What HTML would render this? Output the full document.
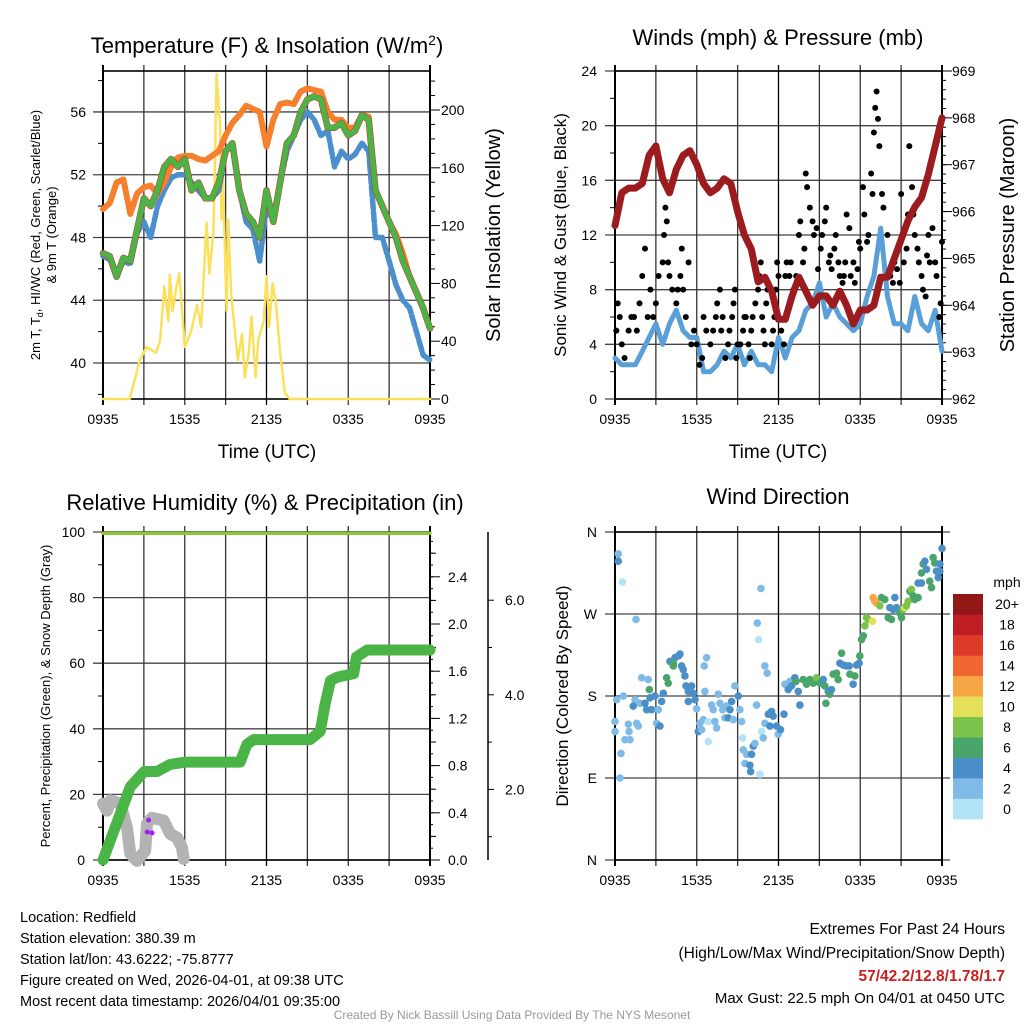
<!DOCTYPE html>
<html><head><meta charset="utf-8"><style>
html,body{margin:0;padding:0;background:#fff;}
svg{display:block;font-family:"Liberation Sans",Arial,sans-serif;}
</style></head><body>
<svg id="c" width="1024" height="1024" viewBox="0 0 1024 1024" xmlns="http://www.w3.org/2000/svg"></svg>
<script>
// ---------- DATA ----------
const halfHours = [0,0.5,1,1.5,2,2.5,3,3.5,4,4.5,5,5.5,6,6.5,7,7.5,8,8.5,9,9.5,10,10.5,11,11.5,12,12.5,13,13.5,14,14.5,15,15.5,16,16.5,17,17.5,18,18.5,19,19.5,20,20.5,21,21.5,22,22.5,23,23.5,24];
const tick3h = [0,3,6,9,12,15,18,21,24];
const timeLabels = ["0935","1535","2135","0335","0935"];
const temp9m = [49.8,50.2,51.5,51.7,49.5,50.8,51.2,51.3,50.8,51.5,52.5,53.1,53.2,53.2,53.0,52.9,53.2,53.5,54.5,55.3,55.8,56.4,56.2,56.0,53.8,55.5,56.5,56.6,56.5,57.3,57.5,57.4,57.3,56.0,55.5,55.5,55.0,55.0,55.8,55.7,51.0,50.0,49.0,48.2,47.0,45.5,44.5,43.5,42.2];
const temp2m = [47,46.8,45.5,46.7,46.5,48.5,50.5,50.0,51.0,52.5,53.0,52.5,53.0,51.0,51.5,50.5,50.5,51.5,53.5,54.0,51.0,49.5,49.0,48.0,51.0,49.0,51.5,54.0,54.5,56.0,56.8,57.0,56.8,55.0,55.0,55.3,54.5,54.8,55.8,55.5,51.0,50.0,49.0,48.0,46.5,45.5,44.5,43.5,42.2];
const dewpt = [46.8,46.6,45.5,46.5,46.3,48.3,49.0,48.0,50.0,51.0,51.8,52.0,52.0,51.5,51.0,50.5,50.5,51.0,53.5,54.0,51.0,49.0,48.5,46.5,50.0,49.0,51.5,53.5,54.5,55.5,56.0,55.5,54.5,54.8,52.5,53.5,53.0,53.3,54.0,53.5,48.0,48.0,46.5,45.0,44.0,43.5,42.0,40.5,40.2];
const solarT = [0,1.96,2.7,3.2,3.9,4.2,4.5,4.8,4.9,5.1,5.4,5.6,6.0,6.5,6.9,7.2,7.6,7.8,8.1,8.2,8.33,8.6,8.7,8.8,9.07,9.2,9.4,9.7,9.9,10.2,10.4,10.7,10.9,11.2,11.4,11.8,12.0,12.2,12.45,12.7,13.0,13.35,13.7,24];
const solarV = [0,0,27,36,32,41,78,54,86,61,78,87,36,48,65,50,122,87,115,154,225,188,124,154,61,124,73,45,27,45,15,32,57,15,41,54,85,50,80,66,32,4,0,0];
const tempTicks = [40,44,48,52,56];
const solarTicks = [0,40,80,120,160,200];

const pressure = [965.7,966.4,966.5,966.5,966.6,967.2,967.4,966.7,966.4,966.9,967.2,967.3,967.0,966.6,966.4,966.5,966.7,966.6,966.0,965.5,965.2,964.5,964.6,964.3,963.7,963.7,964.2,964.6,964.3,964.0,964.2,964.2,964.0,964.3,964.0,963.6,963.9,963.9,964.0,964.6,964.6,965.0,965.4,965.8,966.1,966.3,966.8,967.4,968.0];
const windSpd = [3,2.5,2.5,2.5,3.5,4.5,5.5,4.0,5.5,6.5,5,4.5,4.5,2.0,2.0,2.5,3.5,3.0,4.0,2.5,3.5,2.5,2.5,2.0,4.5,3.0,4.5,5.0,6.5,7.0,8.5,6.0,7.0,6.0,5.5,5.0,5.5,7.5,9.0,12.5,7.5,5.5,5.5,5.0,7.5,5.5,5.0,6.5,3.5];
const gustT = [0.1,0.2,0.35,0.5,0.7, 1.0,1.2,1.4,1.6,1.8,2.0,2.2,2.4,2.6,2.8,3.0,3.2, 3.5,3.6,3.7,3.8,3.9,4.0,4.2, 4.5,4.6,4.8,4.9,5.0,5.2,5.4, 5.6,5.8,6.0,6.2,6.4,6.5,6.7, 7.0,7.2,7.4,7.5,7.7,7.8,7.9, 8.1,8.3,8.4,8.6,8.7,8.8,8.9,9.0, 9.2,9.4,9.5,9.6,9.8,9.9,10.0, 10.1,10.3,10.5,10.6,10.7,10.8,10.9,11.0, 11.1,11.2,11.4,11.5,11.6,11.7,11.8,11.9,12.0, 12.2,12.4,12.5,12.6,12.8,12.9, 13.1,13.3,13.5,13.6,13.8,13.9, 14.0,14.1,14.3,14.5,14.6,14.8,14.9, 15.1,15.2,15.4,15.5,15.7,15.8,15.9, 16.1,16.2,16.4,16.5,16.7,16.8,16.9, 17.0,17.2,17.3,17.5,17.6,17.8,17.9, 18.0,18.2,18.3,18.5,18.6,18.8,18.9, 19.0,19.1,19.2,19.3,19.4,19.6,19.7, 20.0,20.2,20.4,20.5,20.7,20.9, 21.0,21.2,21.4,21.5,21.6,21.8,21.9, 22.0,22.2,22.3,22.5,22.6,22.8,22.9,23.0, 23.1,23.3,23.5,23.6,23.8,23.9,24.0];
const gustV = [5,7,6,4,3, 5,6,6,5,7,9,11,6,8,6,7,9, 10,12,14,13,10,9,8, 7,8,9,11,8,6,10, 4,5,4,2.5,3,6,5, 4,5,6,7,8,5,6, 3,4,5,6,7,8,3,4, 4,5,6,6,4,3,5, 6,7,8,9,10,6,5,4, 7,8,8,4,5,6,8,10,9, 5,4,9,10,9,10, 8,9,12,13,10,11, 16.5,15.5,14,13,12,12.5,9.5, 11,12,13,14,10,10.5,9.5, 11,12,10,9,8.5,9,10, 13.5,12.5,9,10,8.5,9.5,11.5, 11,15.5,13.5,11.5,12,16.5,15, 19.5,21.3,22.5,20.5,18.5,15,14, 12,9,8.5,10,9.5,8.5, 15,10,11,13.5,18.5,15.5,13.5, 12,11,10,9,8,7.5,10.5,12, 10,12.5,10,9,6,7,11.5];
const windTicks = [0,4,8,12,16,20,24];
const presTicks = [962,963,964,965,966,967,968,969];

const rhT = [0,24];
const rhV = [99.6,99.6];
const precipT = [0,2.0,3.03,3.96,4.94,6.04,10.07,10.56,11.05,15.2,15.94,16.3,16.7,17.2,18.4,18.6,19.4,24];
const precipV = [0,0.62,0.75,0.75,0.81,0.83,0.83,0.98,1.02,1.02,1.09,1.32,1.52,1.55,1.58,1.72,1.78,1.78];
const snowT = [0,0.3,0.54,1.27,1.76,2.0,2.49,3.1,3.23,3.59,4.45,4.94,5.43,5.8,5.92];
const snowV = [1.7,1.55,1.77,1.7,1.19,0.64,0.49,0.7,1.28,1.4,1.34,1.06,0.98,0.77,0.53];
const purpleT = [3.35,3.25,3.6];
const purpleV = [1.35,1.1,1.08];
const pctTicks = [0,20,40,60,80,100];
const precipTicks = [0.0,0.4,0.8,1.2,1.6,2.0,2.4];
const precipTickLabels = ["0.0","0.4","0.8","1.2","1.6","2.0","2.4"];
const snowTicks = [2,4,6];
const snowTickLabels = ["2.0","4.0","6.0"];

const dirT = [
0.24,0.24,0.54,0.12,0,0,0.44,0.37,0.61,0.98,
0.73,1.10,1.03,1.47,1.34,1.83,1.71,1.59,1.54,1.96,
2.44,2.52,2.57,2.2,2.32,2.69,2.93,3.06,3.30,3.18,
3.42,3.55,3.79,3.91,4.03,4.28,4.40,4.28,4.65,4.77,
4.89,5.01,5.13,5.21,5.38,5.62,5.75,5.87,5.38,5.99,
6.11,6.23,6.48,6.36,6.60,6.55,6.72,6.85,6.85,7.09,
7.21,7.33,7.46,7.58,7.70,7.90,8.07,8.19,8.31,8.44,
8.56,8.68,8.80,9.05,9.17,9.29,9.36,9.41,9.54,9.66,
9.90,9.95,10.02,10.15,10.27,10.39,10.44,10.54,10.71,10.64,
10.76,10.88,11.0,11.17,11.0,11.25,11.49,11.37,11.61,11.86,
11.98,12.15,12.40,12.47,12.71,12.84,12.96,13.20,13.28,13.45,
13.57,13.81,14.06,14.30,14.55,14.79,15.04,15.28,15.40,15.65,
15.77,15.89,15.48,16.01,16.26,16.38,16.50,16.63,16.75,16.99,
17.19,17.24,17.48,17.60,17.73,17.92,17.97,18.09,18.22,18.34,
18.46,18.58,18.90,18.95,19.07,19.19,19.44,19.56,19.80,20.05,
20.29,20.17,20.42,20.54,20.66,20.90,21.03,21.15,21.27,21.39,
21.52,21.64,21.76,21.88,22.0,22.25,22.25,22.49,22.49,22.62,
22.74,22.86,23.1,23.23,23.35,23.47,23.59,23.72,23.84,23.84,
24.0];
const dirDeg = [
336,328,305,176,152,141,117,90,180,149,
132,132,141,176,169,172,147,150,264,200,
198,187,178,172,165,165,180,150,147,165,
174,183,200,194,218,213,222,216,224,226,
213,209,202,191,185,191,183,176,174,166,
141,150,154,143,185,213,222,130,152,170,
165,152,145,182,172,165,156,169,156,165,
174,154,191,180,165,152,134,121,106,116,
104,97,116,125,128,170,260,242,298,94,
141,134,213,205,150,160,163,147,158,147,
138,143,160,193,187,196,191,200,196,185,
170,198,193,198,194,200,194,198,191,185,
182,187,172,204,205,198,216,227,214,213,
213,204,193,202,214,216,224,242,246,257,
266,264,262,288,284,282,279,288,286,266,
264,277,275,288,277,271,266,275,277,279,
284,295,297,290,286,288,304,304,315,325,
328,319,306,299,332,326,317,310,325,317,
342];
const dirSpd = [
2,4,0,2,2,2,2,2,2,2,
2,2,2,2,4,2,2,2,2,2,
2,6,4,4,4,4,4,2,4,2,
4,4,6,6,4,6,4,6,4,4,
4,4,4,4,4,4,4,4,4,2,
4,2,2,2,2,2,2,0,0,2,
2,2,2,2,2,2,2,2,4,4,
4,2,2,4,2,2,0,2,2,2,
4,4,4,4,2,2,2,0,2,0,
0,2,2,2,2,4,4,4,4,4,
2,4,4,2,4,2,4,4,6,4,
4,6,6,6,6,8,6,4,6,4,
6,4,6,6,6,6,4,6,4,4,
4,6,4,6,4,4,6,6,6,8,
8,8,10,12,12,12,8,6,6,6,
6,4,4,4,4,6,6,8,10,8,
8,6,8,6,6,6,4,4,6,6,
4,4,6,6,6,6,4,4,4,4,
4];
const dirTicks = [0,90,180,270,360];
const dirTickLabels = ["N","E","S","W","N"];
const cbarLabels = ["0","2","4","6","8","10","12","14","16","18","20+"];
const cbarColors = ["#b3e3f7","#7fbbe6","#4a8fc8","#4aa56b","#7bc34a","#e5e05a","#f6a847","#f06530","#de3a2a","#bf1e25","#921818"];

// ---------- DRAW ----------
const svg = document.getElementById('c');
const NS = 'http://www.w3.org/2000/svg';
function mk(tag, attrs, parent, text) {
  const e = document.createElementNS(NS, tag);
  for (const k in attrs) e.setAttribute(k, attrs[k]);
  if (text !== undefined) e.textContent = text;
  (parent || svg).appendChild(e);
  return e;
}
function group(name) {
  const g = mk('g', {});
  
  
  return g;
}
function txt(parent, x, y, s, size, anchor, name, extra) {
  const a = {x: x, y: y, 'font-size': size, 'text-anchor': anchor || 'middle', fill: '#000'};
  if (extra) for (const k in extra) a[k] = extra[k];
  const t = mk('text', a, parent, s);
  
  
  return t;
}
function pathFrom(xs, ys, fx, fy) {
  let d = '';
  for (let i = 0; i < xs.length; i++) d += (i ? 'L' : 'M') + fx(xs[i]).toFixed(1) + ',' + fy(ys[i]).toFixed(1);
  return d;
}
function line(parent, d, color, w, name) {
  const p = mk('path', {d: d, fill: 'none', stroke: color, 'stroke-width': w, 'stroke-linejoin': 'round', 'stroke-linecap': 'round'}, parent);
  
  
  return p;
}
function frame(g, x0, x1, y0, y1, sx) {
  tick3h.forEach(function (t) {
    const l = mk('line', {x1: sx(t), x2: sx(t), y1: y0 - 6, y2: y1 + 6, stroke: (t % 12 === 0 ? '#000' : '#333'), 'stroke-width': (t === 0 || t === 24) ? 2 : 1.3}, g);
    
    
  });
  const r = mk('rect', {x: x0, y: y0, width: x1 - x0, height: y1 - y0, fill: 'none', stroke: '#000', 'stroke-width': 1.6}, g);
  
  
  for (let i = 0; i < 5; i++) {
    txt(g, sx(i * 6), y1 + 25, timeLabels[i], 14, 'middle', 'x-tick-label');
  }
}
function hgrid(g, x0, x1, y, withTick) {
  const l = mk('line', {x1: withTick ? x0 - 10 : x0, x2: x1, y1: y, y2: y, stroke: '#444', 'stroke-width': 1.3}, g);
  
  
}
function rtick(g, x, y, len) {
  const l = mk('line', {x1: x, x2: x + len, y1: y, y2: y, stroke: '#000', 'stroke-width': 1}, g);
  
  
}

// ===== Panel 1: Temperature =====
(function () {
  const g = group('temperature-panel');
  const X0 = 103, X1 = 430, Y0 = 71, Y1 = 399;
  const sx = t => X0 + t / 24 * (X1 - X0);
  const sy = v => 363 - (v - 40) * 15.69;
  const sy2 = v => 399 - v * 1.445;
  txt(g, 267, 53, 'Temperature (F) & Insolation (W/m', 22, 'middle', 'chart-title').innerHTML = 'Temperature (F) &amp; Insolation (W/m<tspan dy="-8" font-size="14">2</tspan><tspan dy="8">)</tspan>';
  tempTicks.forEach(v => { hgrid(g, X0, X1, sy(v), true); txt(g, 86, sy(v) + 5, String(v), 14, 'end', 'y-tick-label'); });
  for (let v = 38; v <= 58; v += 2) if (v % 4) { rtick(g, X0 - 5, sy(v), 5); }
  solarTicks.forEach(v => { rtick(g, X1, sy2(v), 10); txt(g, 441, sy2(v) + 5, String(v), 14, 'start', 'right-tick-label'); });
  for (let v = 10; v <= 220; v += 10) if (v % 40) rtick(g, X1, sy2(v), 5);
  frame(g, X0, X1, Y0, Y1, sx);
  line(g, pathFrom(solarT, solarV, sx, sy2), '#fbe15b', 2.5, 'solar-insolation-line');
  line(g, pathFrom(halfHours, dewpt, sx, sy), '#4b8fcc', 5.5, 'dewpoint-line').setAttribute('stroke-dasharray', '10 3');
  line(g, pathFrom(halfHours, temp9m, sx, sy), '#f5812f', 6, 'temp-9m-line');
  line(g, pathFrom(halfHours, temp2m, sx, sy), '#d62728', 6.5, 'temp-2m-red-line');
  line(g, pathFrom(halfHours, temp2m, sx, sy), '#4bb446', 5.5, 'temp-2m-line');
  txt(g, 40, 235, '2m T, T', 13, 'middle', 'y-axis-title', {transform: 'rotate(-90 40 235)'}).innerHTML = '2m T, T<tspan dy="3" font-size="9">d</tspan><tspan dy="-3">, HI/WC (Red, Green, Scarlet/Blue)</tspan>';
  txt(g, 56, 235, '& 9m T (Orange)', 13, 'middle', 'y-axis-title-line2', {transform: 'rotate(-90 56 235)'});
  txt(g, 500, 235, 'Solar Insolation (Yellow)', 20, 'middle', 'right-axis-title', {transform: 'rotate(-90 500 235)'});
  txt(g, 267, 458, 'Time (UTC)', 19, 'middle', 'x-axis-title');
})();

// ===== Panel 2: Winds =====
(function () {
  const g = group('winds-panel');
  const X0 = 615, X1 = 942, Y0 = 71, Y1 = 399;
  const sx = t => X0 + t / 24 * (X1 - X0);
  const sy = v => Y1 - v * (Y1 - Y0) / 24;
  const sy2 = v => Y1 - (v - 962) * (Y1 - Y0) / 7;
  txt(g, 778, 45, 'Winds (mph) & Pressure (mb)', 22, 'middle', 'chart-title');
  windTicks.forEach(v => { hgrid(g, X0, X1, sy(v), true); txt(g, 597, sy(v) + 5, String(v), 14, 'end', 'y-tick-label'); });
  for (let v = 2; v <= 22; v += 4) rtick(g, X0 - 5, sy(v), 5);
  presTicks.forEach(v => { rtick(g, X1, sy2(v), 10); txt(g, 952, sy2(v) + 5, String(v), 14, 'start', 'right-tick-label'); });
  for (let v = 962; v < 969; v += 0.2) rtick(g, X1, sy2(v), 4);
  frame(g, X0, X1, Y0, Y1, sx);
  line(g, pathFrom(halfHours, windSpd, sx, sy), '#5a9fd8', 5, 'sonic-wind-line');
  gustT.forEach((t, i) => {
    const c = mk('circle', {cx: sx(t), cy: sy(gustV[i]), r: 3, fill: '#000'}, g);
    
    
  });
  line(g, pathFrom(halfHours, pressure, sx, sy2), '#9b1b1e', 7, 'pressure-line');
  txt(g, 566, 235, 'Sonic Wind & Gust (Blue, Black)', 17, 'middle', 'y-axis-title', {transform: 'rotate(-90 566 235)'});
  txt(g, 1014, 235, 'Station Pressure (Maroon)', 20, 'middle', 'right-axis-title', {transform: 'rotate(-90 1014 235)'});
  txt(g, 778, 458, 'Time (UTC)', 19, 'middle', 'x-axis-title');
})();

// ===== Panel 3: Humidity / precip =====
(function () {
  const g = group('humidity-panel');
  const X0 = 103, X1 = 430, Y0 = 532, Y1 = 860;
  const sx = t => X0 + t / 24 * (X1 - X0);
  const sy = v => Y1 - v * (Y1 - Y0) / 100;
  const syP = v => Y1 - v * 118;
  const syS = v => 884 - v * 47.3;
  txt(g, 265, 510, 'Relative Humidity (%) & Precipitation (in)', 22, 'middle', 'chart-title');
  pctTicks.forEach(v => { hgrid(g, X0, X1, sy(v), true); txt(g, 85, sy(v) + 5, String(v), 14, 'end', 'y-tick-label'); });
  for (let v = 10; v < 100; v += 20) rtick(g, X0 - 5, sy(v), 5);
  precipTicks.forEach((v, i) => { rtick(g, X1, syP(v), 10); txt(g, 448, syP(v) + 5, precipTickLabels[i], 14, 'start', 'precip-tick-label'); });
  for (let v = 0.2; v < 2.8; v += 0.4) rtick(g, X1, syP(v), 6);
  for (let v = 0.1; v < 2.8; v += 0.1) rtick(g, X1, syP(v), 3);
  const ax = mk('line', {x1: 488, x2: 488, y1: 532, y2: 860, stroke: '#000', 'stroke-width': 1.5}, g);
  
  
  snowTicks.forEach((v, i) => { rtick(g, 488, syS(v), 6); txt(g, 505, syS(v) + 5, snowTickLabels[i], 14, 'start', 'snow-tick-label'); });
  for (let v = 1; v < 7; v += 2) rtick(g, 488, syS(v), 4);
  frame(g, X0, X1, Y0, Y1, sx);
  line(g, pathFrom(snowT, snowV, sx, syS), '#b3b3b3', 12, 'snow-depth-line');
  purpleT.forEach((t, i) => {
    const c = mk('circle', {cx: sx(t), cy: syS(purpleV[i]), r: 2.5, fill: '#a020f0'}, g);
    
    
  });
  line(g, pathFrom(precipT, precipV, sx, syP), '#4bb446', 11, 'precipitation-line');
  line(g, pathFrom(rhT, rhV, sx, sy), '#8cc63f', 3.5, 'relative-humidity-line');
  txt(g, 50, 696, 'Percent, Precipitation (Green), & Snow Depth (Gray)', 13, 'middle', 'y-axis-title', {transform: 'rotate(-90 50 696)'});
})();

// ===== Panel 4: Wind direction =====
(function () {
  const g = group('wind-direction-panel');
  const X0 = 615, X1 = 942, Y0 = 532, Y1 = 860;
  const sx = t => X0 + t / 24 * (X1 - X0);
  const sy = d => Y1 - d * (Y1 - Y0) / 360;
  txt(g, 778, 504, 'Wind Direction', 22, 'middle', 'chart-title');
  dirTicks.forEach((d, i) => { hgrid(g, X0, X1 + 8, sy(d), true); txt(g, 597, sy(d) + 5, dirTickLabels[i], 14, 'end', 'direction-tick-label'); });
  frame(g, X0, X1, Y0, Y1, sx);
  dirT.forEach((t, i) => {
    const c = mk('circle', {cx: sx(t), cy: sy(dirDeg[i]), r: 3.8, fill: cbarColors[Math.min(10, Math.round(dirSpd[i] / 2))]}, g);
    
    
  });
  txt(g, 568, 696, 'Direction (Colored By Speed)', 17, 'middle', 'y-axis-title', {transform: 'rotate(-90 568 696)'});
  const cb = group('speed-colorbar');
  const cw = 225 / 11;
  cbarColors.forEach((col, i) => {
    const r = mk('rect', {x: 953, y: 819 - (i + 1) * cw, width: 30, height: cw + 0.3, fill: col}, cb);
    
    
    txt(cb, 1007, 819 - (i + 0.5) * cw + 5, cbarLabels[i], 14, 'middle', 'colorbar-label');
  });
  txt(cb, 1007, 587, 'mph', 14, 'middle', 'colorbar-title');
})();

// ===== Footer text =====
(function () {
  const g = group('station-info');
  const lines = ['Location: Redfield', 'Station elevation: 380.39 m', 'Station lat/lon: 43.6222; -75.8777', 'Figure created on Wed, 2026-04-01, at 09:38 UTC', 'Most recent data timestamp: 2026/04/01 09:35:00'];
  lines.forEach((s, i) => txt(g, 20, 922 + i * 21, s, 14.5, 'start', 'station-info-line'));
  const r = group('extremes-info');
  txt(r, 1005, 934, 'Extremes For Past 24 Hours', 15.5, 'end', 'extremes-title');
  txt(r, 1005, 958, '(High/Low/Max Wind/Precipitation/Snow Depth)', 15.5, 'end', 'extremes-subtitle');
  txt(r, 1005, 981, '57/42.2/12.8/1.78/1.7', 15.5, 'end', 'extremes-values', {fill: '#c8201f', 'font-weight': 'bold'});
  txt(r, 1005, 1003, 'Max Gust: 22.5 mph On 04/01 at 0450 UTC', 15, 'end', 'max-gust');
  txt(svg, 512, 1019, 'Created By Nick Bassill Using Data Provided By The NYS Mesonet', 12, 'middle', 'credit-footer', {fill: '#999'});
})();
</script>
</body></html>
